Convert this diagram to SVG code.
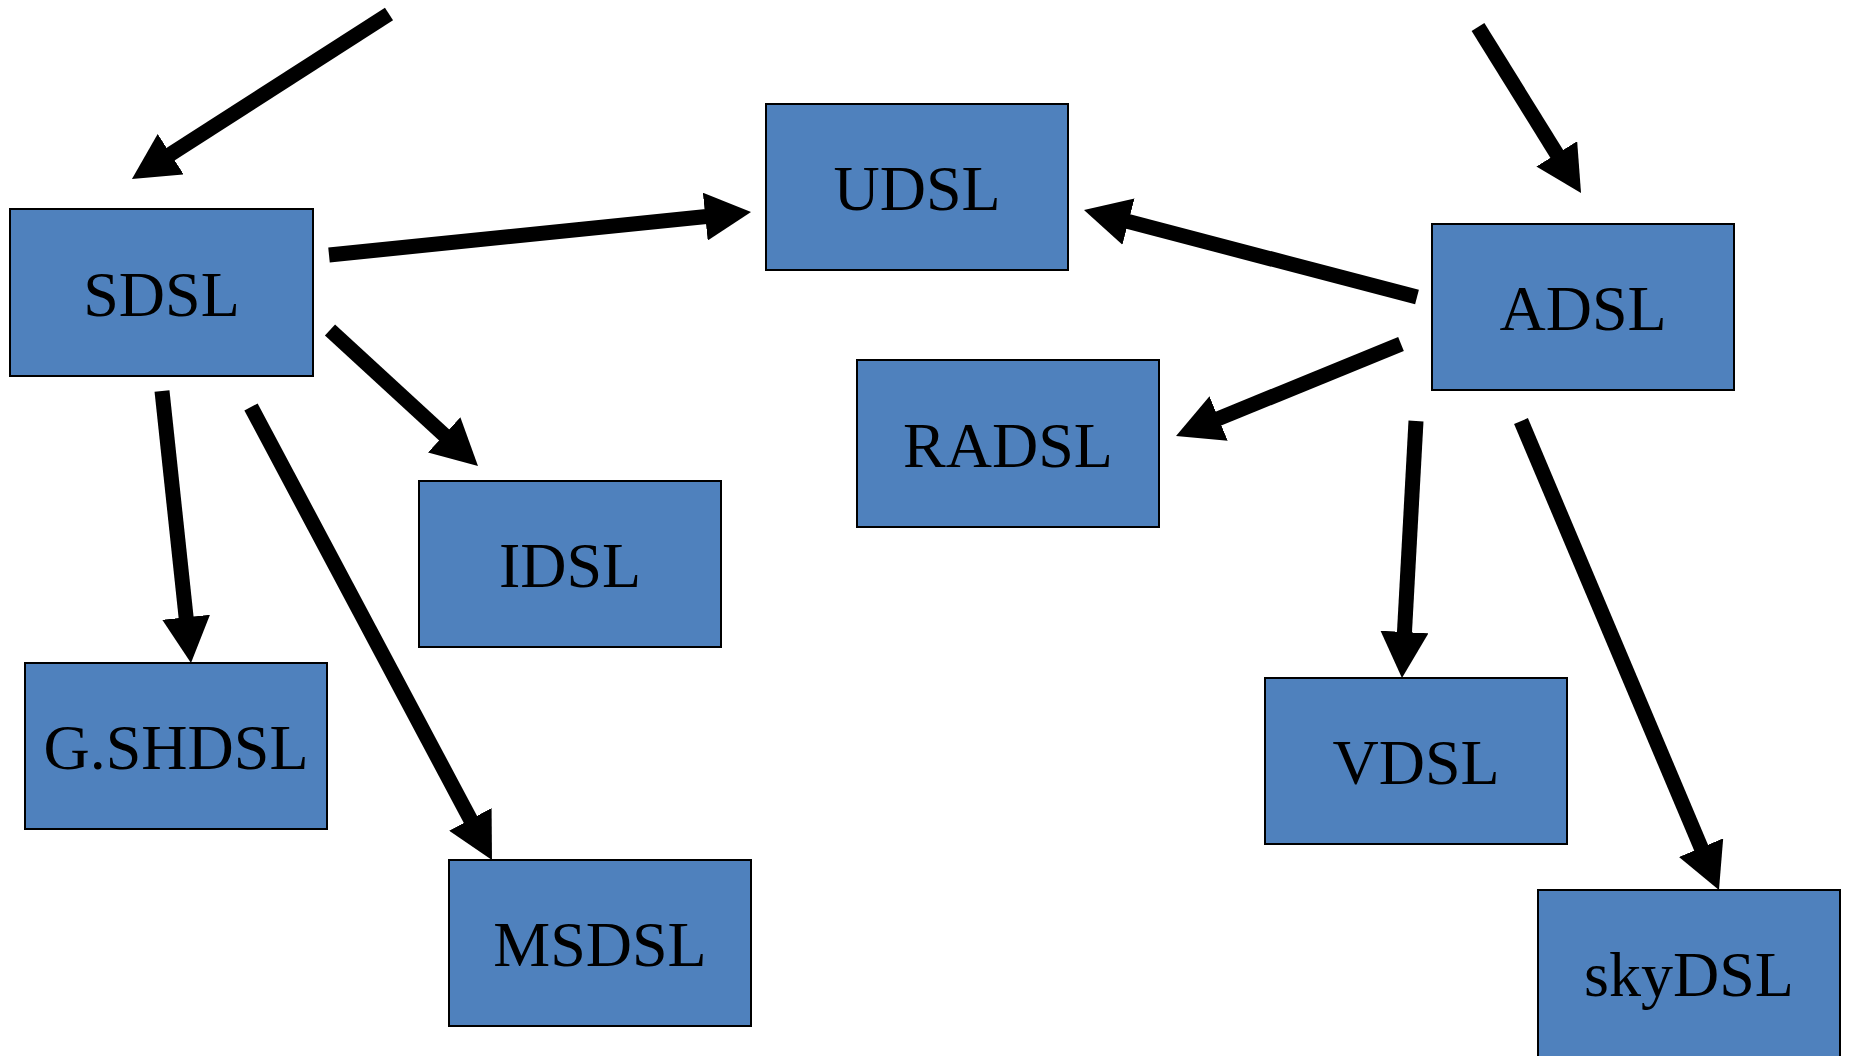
<svg xmlns="http://www.w3.org/2000/svg" width="1849" height="1056" viewBox="0 0 1849 1056">
<style>
.box{fill:#4F81BD;stroke:#000;stroke-width:2}
.lbl{font-family:"Liberation Serif","Times New Roman",serif;font-size:64px;fill:#000;text-anchor:middle}
.arr{stroke:#000;stroke-width:15;fill:none;marker-end:url(#ah)}
</style>
<defs>
<marker id="ah" markerUnits="userSpaceOnUse" viewBox="0 0 46 48" refX="16" refY="24" markerWidth="46" markerHeight="48" orient="auto">
<path d="M0,0 L46,24 L0,48 Z" fill="#000"/>
</marker>
</defs>
<rect width="1849" height="1056" fill="#fff"/>
<g id="connectors">
<line class="arr" x1="389" y1="14" x2="157.2" y2="162.8"/>
<line class="arr" x1="329" y1="255" x2="721.2" y2="215"/>
<line class="arr" x1="330" y1="330" x2="455.9" y2="445.7"/>
<line class="arr" x1="162" y1="391" x2="187.8" y2="633.2"/>
<line class="arr" x1="251" y1="407" x2="477.9" y2="833.5"/>
<line class="arr" x1="1478" y1="27" x2="1565.2" y2="167.5"/>
<line class="arr" x1="1417" y1="297" x2="1113" y2="217.6"/>
<line class="arr" x1="1401" y1="344" x2="1203.8" y2="424.6"/>
<line class="arr" x1="1416" y1="421" x2="1403.6" y2="648"/>
<line class="arr" x1="1521" y1="421" x2="1707.3" y2="862.4"/>
</g>
<g id="SDSL"><rect class="box" x="10" y="209" width="303" height="167"/><text class="lbl" x="161.5" y="316">SDSL</text></g>
<g id="UDSL"><rect class="box" x="766" y="104" width="302" height="166"/><text class="lbl" x="917" y="210">UDSL</text></g>
<g id="ADSL"><rect class="box" x="1432" y="224" width="302" height="166"/><text class="lbl" x="1583" y="330">ADSL</text></g>
<g id="RADSL"><rect class="box" x="857" y="360" width="302" height="167"/><text class="lbl" x="1008" y="467">RADSL</text></g>
<g id="IDSL"><rect class="box" x="419" y="481" width="302" height="166"/><text class="lbl" x="570" y="587">IDSL</text></g>
<g id="G.SHDSL"><rect class="box" x="25" y="663" width="302" height="166"/><text class="lbl" x="176" y="769">G.SHDSL</text></g>
<g id="MSDSL"><rect class="box" x="449" y="860" width="302" height="166"/><text class="lbl" x="600" y="966">MSDSL</text></g>
<g id="VDSL"><rect class="box" x="1265" y="678" width="302" height="166"/><text class="lbl" x="1416" y="784">VDSL</text></g>
<g id="skyDSL"><rect class="box" x="1538" y="890" width="302" height="170"/><text class="lbl" x="1689" y="996">skyDSL</text></g>
</svg>
